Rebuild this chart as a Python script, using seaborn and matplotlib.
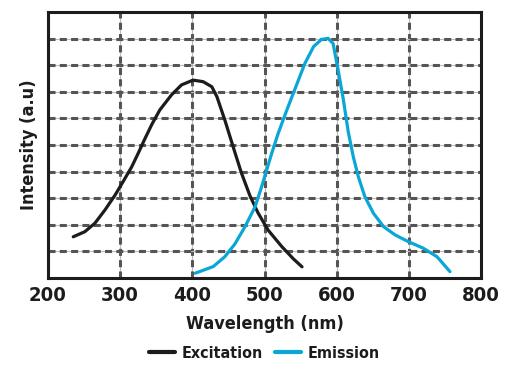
import pandas as pd
import numpy as np
import matplotlib.pyplot as plt
import seaborn as sns

# Excitation curve (wavelength nm, intensity a.u.)
exc_wl = [235, 251, 265, 279, 293, 304, 316, 325, 334, 344, 355, 371, 385, 401, 415, 427, 434,
          445, 459, 468, 480, 491, 505, 524, 540, 552]
exc_int = [1.55, 1.74, 2.06, 2.56, 3.12, 3.62, 4.18, 4.69, 5.22, 5.78, 6.32, 6.88, 7.26, 7.44, 7.38,
           7.19, 6.82, 5.94, 4.72, 3.95, 3.08, 2.45, 1.80, 1.18, 0.72, 0.42]

# Emission curve
em_wl = [404, 429, 445, 459, 473, 487, 496, 503, 510, 519, 531, 540, 549, 556, 568, 579, 588,
         595, 602, 609, 616, 623, 630, 639, 651, 665, 681, 699, 720, 739, 757]
em_int = [0.18, 0.43, 0.80, 1.28, 1.93, 2.68, 3.43, 4.06, 4.69, 5.44, 6.32, 6.95, 7.58, 8.07,
          8.70, 8.97, 9.01, 8.82, 7.82, 6.75, 5.50, 4.56, 3.81, 3.06, 2.43, 1.93, 1.62, 1.37,
          1.12, 0.80, 0.24]

x_ticks = [200, 300, 400, 500, 600, 700, 800]

df = pd.concat([
    pd.DataFrame({"Wavelength": exc_wl, "Intensity": exc_int, "Series": "Excitation"}),
    pd.DataFrame({"Wavelength": em_wl, "Intensity": em_int, "Series": "Emission"}),
])

sns.set_theme(style="white")
plt.rcParams['font.family'] = ['DejaVu Sans']
plt.rcParams['font.stretch'] = 'condensed'

fig = plt.figure(figsize=(5.15, 3.73), dpi=100)
ax = fig.add_axes([0.0932, 0.2547, 0.8408, 0.7131])

# grid: thin light solid line with dark dashes on top
for xv in x_ticks[1:-1]:
    ax.axvline(xv, color="#bbbbbb", lw=0.8, zorder=1)
    ax.axvline(xv, color="#555555", lw=2.2, dashes=(2.3, 1.4), zorder=1)
for yv in range(1, 10):
    ax.axhline(yv, color="#bbbbbb", lw=0.8, zorder=1)
    ax.axhline(yv, color="#555555", lw=2.2, dashes=(2.3, 1.4), zorder=1)

sns.lineplot(data=df, x="Wavelength", y="Intensity", hue="Series", sort=False,
             palette={"Excitation": "#1c1c1c", "Emission": "#0aa6d6"},
             lw=2.3, ax=ax, zorder=3, solid_joinstyle="round", solid_capstyle="round")

ax.set_xlim(200, 800)
ax.set_ylim(0, 10)
ax.set_xticks(x_ticks)
ax.set_xticklabels([str(v) for v in x_ticks], fontsize=14.5, fontweight="bold", color="#1c1c1c")
ax.set_yticks([])
ax.tick_params(axis="x", length=0, pad=6)

for s in ax.spines.values():
    s.set_color("#1c1c1c")
    s.set_linewidth(2.2)

ax.set_xlabel("Wavelength (nm)", fontsize=13, fontweight="bold", color="#1c1c1c", labelpad=7)
ax.set_ylabel("Intensity (a.u)", fontsize=13, fontweight="bold", color="#1c1c1c", labelpad=7)

leg = ax.legend(loc="upper center", bbox_to_anchor=(0.5, -0.2), ncol=2, frameon=False,
                handlelength=1.6, handletextpad=0.4, columnspacing=0.8,
                prop={"size": 11.5, "weight": "bold"})
for line in leg.get_lines():
    line.set_linewidth(3)
for t in leg.get_texts():
    t.set_color("#1c1c1c")

fig.savefig("out.png", dpi=100)
